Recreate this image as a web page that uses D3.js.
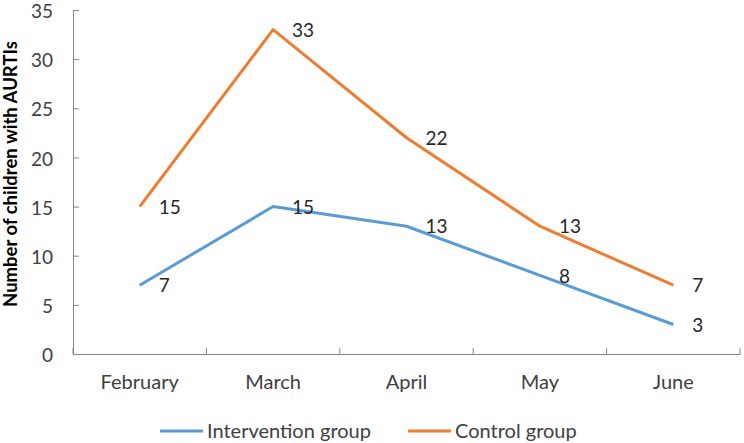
<!DOCTYPE html>
<html>
<head>
<meta charset="utf-8">
<script src="https://cdn.jsdelivr.net/npm/d3@7"></script>
<style>
  html, body { margin: 0; padding: 0; background: #fff; }
  svg { display: block; font-family: Lato, 'Open Sans', sans-serif; }
  .axis path, .axis line { stroke: #868686; }
  .axis text { fill: #404040; font-size: 19px; font-family: Lato, 'Open Sans', sans-serif; }
  .axis--x text { font-size: 20px; }
  .y-axis-label { font-weight: bold; font-size: 18.5px; fill: #000; }
  .data-label { font-size: 19px; fill: #262626; }
  .legend text { font-size: 20px; fill: #404040; }
</style>
</head>
<body>
<svg id="chart" width="744" height="443"></svg>
<script>
  // DATA
  const months = ['February', 'March', 'April', 'May', 'June'];
  const intervention = [7, 15, 13, 8, 3];
  const control = [15, 33, 22, 13, 7];
  const yTicks = [0, 5, 10, 15, 20, 25, 30, 35];

  const series = [
    { name: 'Intervention group', values: intervention, color: '#5B9BD5' },
    { name: 'Control group', values: control, color: '#ED7D31' }
  ];

  // SETUP
  let svg = d3.select('svg'),
    margin = { top: 10, right: 4, bottom: 89, left: 73 },
    width = 744 - margin.left - margin.right,
    height = 443 - margin.top - margin.bottom;

  let x = d3.scaleBand().domain(months).range([0, width]).padding(0),
    y = d3.scaleLinear().domain([0, 35]).range([height, 0]);

  let g = svg
    .append('g')
    .attr('transform', 'translate(' + margin.left + ',' + margin.top + ')');

  // AXES
  let xAxis = g
    .append('g')
    .attr('class', 'axis axis--x')
    .attr('transform', 'translate(0,' + height + ')')
    .call(d3.axisBottom(x).tickSize(0).tickPadding(21));
  // tick marks on the band edges, pointing up
  xAxis
    .selectAll('.edge')
    .data(d3.range(months.length + 1))
    .enter()
    .append('line')
    .attr('class', 'edge')
    .attr('x1', i => i * x.step())
    .attr('x2', i => i * x.step())
    .attr('y1', 0)
    .attr('y2', -6);

  g.append('g')
    .attr('class', 'axis axis--y')
    .call(d3.axisLeft(y).tickValues(yTicks).tickSizeInner(-6).tickSizeOuter(0).tickPadding(20))
    .selectAll('text')
    .attr('dy', '0.4em');

  // Y AXIS LABEL
  g.append('text')
    .attr('class', 'y-axis-label')
    .attr('transform', 'rotate(-90)')
    .attr('x', -height / 2 + 8)
    .attr('y', -56)
    .attr('text-anchor', 'middle')
    .text('Number of children with AURTIs');

  // LINES
  const line = d3
    .line()
    .x((d, i) => x(months[i]) + x.bandwidth() / 2)
    .y(d => y(d));

  series.forEach(s => {
    g.append('path')
      .datum(s.values)
      .attr('fill', 'none')
      .attr('stroke', s.color)
      .attr('stroke-width', 3)
      .attr('stroke-linejoin', 'round')
      .attr('d', line);

    g.selectAll(null)
      .data(s.values)
      .enter()
      .append('text')
      .attr('class', 'data-label')
      .attr('x', (d, i) => x(months[i]) + x.bandwidth() / 2 + 19)
      .attr('y', d => y(d))
      .attr('dy', '0.38em')
      .text(d => d);
  });

  // LEGEND
  let legend = svg.append('g').attr('class', 'legend').attr('transform', 'translate(160,431)');
  let offsets = [0, 248];
  series.forEach((s, i) => {
    let item = legend.append('g').attr('transform', 'translate(' + offsets[i] + ',0)');
    item
      .append('line')
      .attr('x1', 0)
      .attr('x2', 43)
      .attr('stroke', s.color)
      .attr('stroke-width', 3);
    item
      .append('text')
      .attr('x', 47)
      .attr('dy', '0.35em')
      .text(s.name);
  });
</script>
</body>
</html>
